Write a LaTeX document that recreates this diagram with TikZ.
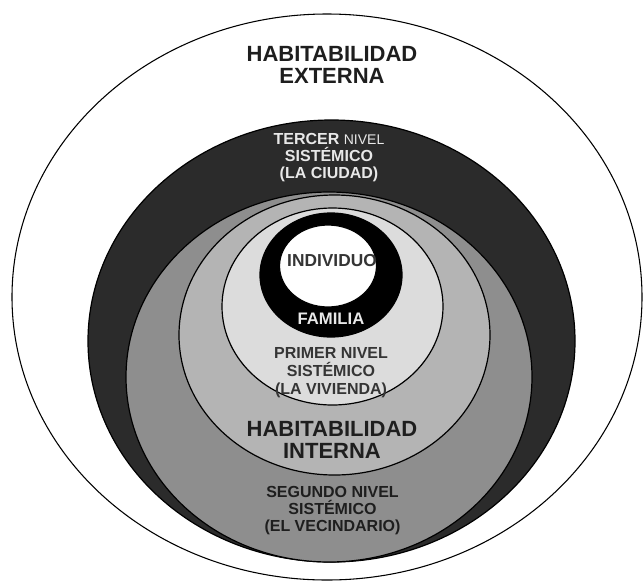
\documentclass[tikz,border=0pt]{standalone}
\usepackage{fontspec}
\setmainfont{Liberation Sans}
\usepackage{tikz}
\definecolor{ciudad}{RGB}{43,43,43}
\definecolor{vecindario}{RGB}{142,142,142}
\definecolor{interna}{RGB}{180,180,180}
\definecolor{vivienda}{RGB}{220,220,220}
\definecolor{tinta}{RGB}{30,30,30}
\definecolor{clara}{RGB}{232,232,232}

\begin{document}
\begin{tikzpicture}[x=0.75pt,y=0.75pt,yscale=-1,xscale=1,
  anillo/.style={draw=black, line width=0.9pt},
  rotulo/.style={inner sep=0.75pt, align=center}]
\useasboundingbox (0,0) rectangle (643,583);

%Shape: Ellipse [habitabilidad externa]
\draw [anillo, fill=white, line width=0.8pt] (327,297) ellipse [x radius=315, y radius=283];
%Shape: Ellipse [tercer nivel]
\draw [anillo, fill=ciudad] (331.5,341) ellipse [x radius=243.5, y radius=221];
%Shape: Ellipse [segundo nivel]
\draw [anillo, fill=vecindario] (329,377) ellipse [x radius=203, y radius=185];
%Shape: Ellipse [habitabilidad interna]
\draw [anillo, fill=interna] (334.5,335) ellipse [x radius=155.5, y radius=140];
%Shape: Ellipse [primer nivel]
\draw [anillo, fill=vivienda] (332.5,306.5) ellipse [x radius=110.5, y radius=98.5];
%Shape: Ellipse [familia]
\draw [anillo, fill=black] (331,275) ellipse [x radius=71, y radius=62];
%Shape: Ellipse [individuo]
\draw [anillo, fill=white] (328,266) ellipse [x radius=48.5, y radius=41];

% Text Node
\node [rotulo, text=tinta, font=\bfseries\fontsize{16.5}{16.5}\selectfont] (externa) at (332,65) {HABITABILIDAD\\EXTERNA};
% Text Node
\node [rotulo, text=clara, font=\bfseries\fontsize{12}{12.75}\selectfont] (ciudad) at (329,158) {TERCER {\mdseries\fontsize{10.5}{12.75}\selectfont NIVEL}\\SISTÉMICO\\(LA CIUDAD)};
% Text Node
\node [rotulo, text=tinta!90, font=\bfseries\fontsize{13}{13}\selectfont] (individuo) at (332,261) {INDIVIDUO};
% Text Node
\node [rotulo, text=clara, font=\bfseries\fontsize{12.5}{12.5}\selectfont] (familia) at (331,319) {FAMILIA};
% Text Node
\node [rotulo, text=tinta!90, font=\bfseries\fontsize{12}{13.5}\selectfont] (vivienda) at (331,373) {PRIMER NIVEL\\SISTÉMICO\\(LA VIVIENDA)};
% Text Node
\node [rotulo, text=tinta, font=\bfseries\fontsize{16.5}{16.9}\selectfont] (interna) at (332,440) {HABITABILIDAD\\INTERNA};
% Text Node
\node [rotulo, text=tinta, font=\bfseries\fontsize{12}{12.75}\selectfont] (vecindario) at (332.5,511) {SEGUNDO NIVEL\\SISTÉMICO\\(EL VECINDARIO)};

\end{tikzpicture}
\end{document}
